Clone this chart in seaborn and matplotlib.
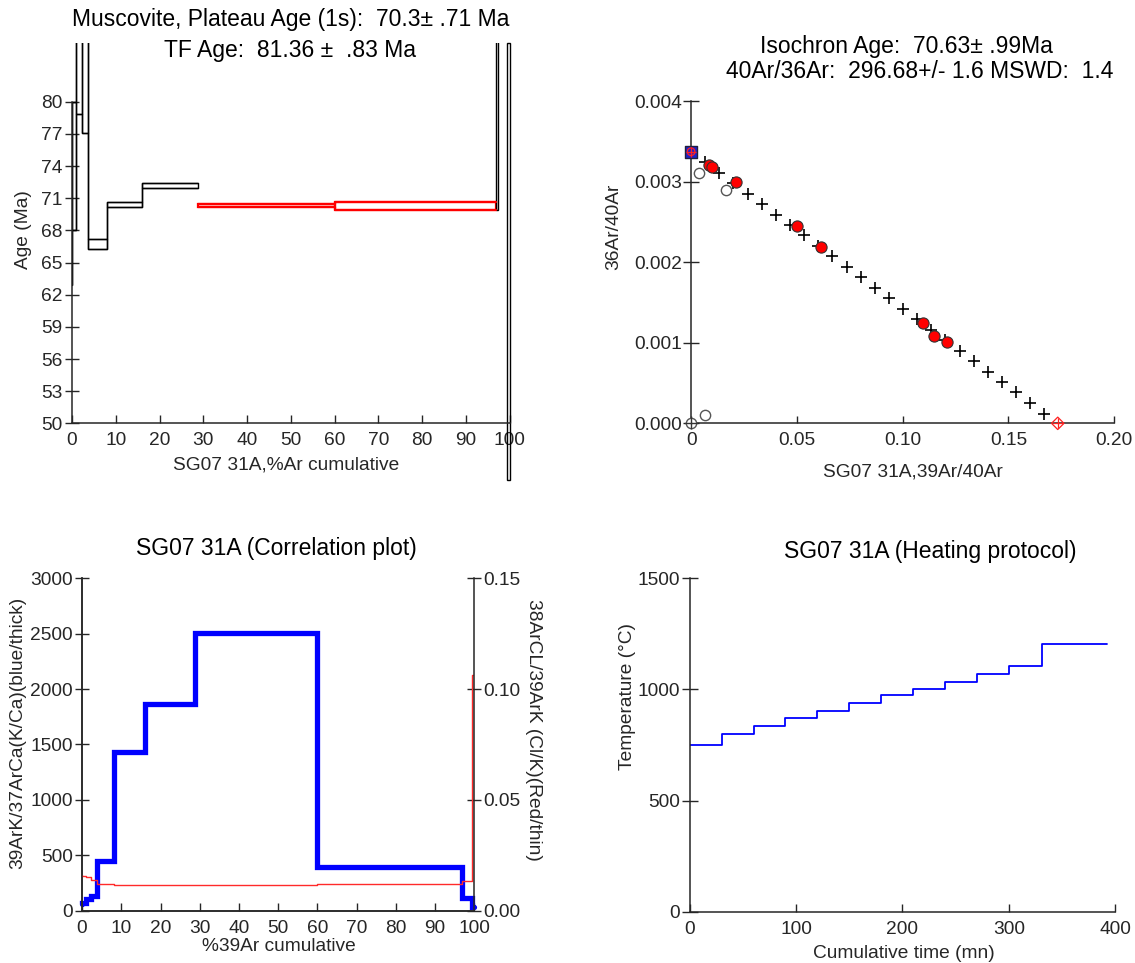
import matplotlib
matplotlib.use("Agg")
import matplotlib.pyplot as plt
from matplotlib.patches import Rectangle
import pandas as pd
import seaborn as sns

# cumulative %39Ar released, edges of the 12 heating steps
cum_edges = [0, 0.07, 1.0, 2.3, 3.7, 8.1, 16.1, 28.7, 60.0, 96.9, 97.2, 99.4, 100]

# age spectrum boxes (age - 1s, age + 1s), Ma
age_lo = [62.9, 68.0, 78.85, 77.05, 66.23, 70.21, 71.93, 70.21, 69.90, 69.90, 95.0, 44.7]
age_hi = [77.5, 80.0, 120.0, 120.0, 67.17, 70.68, 72.46, 70.46, 70.68, 120.0, 130.0, 85.45]
plateau = [False, False, False, False, False, False, False, True, True, False, False, False]

# K/Ca and Cl/K per step
k_ca = [60, 70, 105, 132, 450, 1430, 1866, 2505, 397, 117, 117, 36]
cl_k = [0.0161, 0.0158, 0.0150, 0.0138, 0.0120, 0.0118, 0.0118, 0.0118, 0.0122, 0.0136, 0.0136, 0.1064]
cl_k_end = 0.0131

# isochron: regression line drawn as crosses
iso_line_x = [0.0067, 0.0134, 0.0200, 0.0267, 0.0334, 0.0401, 0.0468, 0.0534, 0.0601,
              0.0668, 0.0735, 0.0802, 0.0868, 0.0935, 0.1002, 0.1069, 0.1136, 0.1202,
              0.1269, 0.1336, 0.1403, 0.1470, 0.1536, 0.1603, 0.1670]
iso_line_y = [0.003241, 0.003111, 0.002982, 0.002852, 0.002721, 0.002591, 0.002461,
              0.002332, 0.002202, 0.002072, 0.001942, 0.001811, 0.001682, 0.001552,
              0.001422, 0.001292, 0.001162, 0.001032, 0.000902, 0.000772, 0.000642,
              0.000512, 0.000383, 0.000252, 0.000122]
# steps used in the isochron (filled red)
used_x = [0.0085, 0.0097, 0.0213, 0.0502, 0.0615, 0.1094, 0.1150, 0.1211]
used_y = [0.00320, 0.00318, 0.00299, 0.002453, 0.002184, 0.001241, 0.001084, 0.001013]
# excluded steps (open)
excl_x = [0.0035, 0.0166, 0.0065, 0.0]
excl_y = [0.003102, 0.002890, 0.000103, 0.0]
# intercepts: 36/40 (y) and 39/40 (x)
y_int = 0.003371
x_int = 0.1733

# heating protocol
heat_time = [0, 30, 60, 90, 120, 150, 180, 210, 240, 270, 300, 331, 392]
heat_temp = [750, 800, 835, 870, 905, 940, 975, 1000, 1035, 1070, 1105, 1205]

sns.set_style("ticks")
plt.rcParams['font.family'] = ['Liberation Sans', 'DejaVu Sans']
plt.rcParams['axes.linewidth'] = 1.1
plt.rcParams['text.color'] = 'black'

TICK = 13.8
LAB = 13.8
TIT = 16.5

fig = plt.figure(figsize=(11.35, 9.63), dpi=100)


def center_labels(ax, xpos, ypos):
    ax.xaxis.label.set_verticalalignment('center')
    ax.yaxis.label.set_verticalalignment('center')
    ax.xaxis.set_label_coords(*xpos)
    ax.yaxis.set_label_coords(*ypos)


# ---------- age spectrum ----------
ax1 = fig.add_axes([0.0634, 0.5604, 0.3858, 0.3946])
for i in range(len(age_lo)):
    x0, x1 = cum_edges[i], cum_edges[i + 1]
    if plateau[i]:
        col, lw = '#ff0000', 1.6
    else:
        col, lw = 'black', 1.0
    ax1.add_patch(Rectangle((x0, age_lo[i]), x1 - x0, age_hi[i] - age_lo[i],
                            fill=False, ec=col, lw=lw,
                            clip_on=(i != len(age_lo) - 1)))
# join neighbouring steps of the same kind (upper and lower step curves)
runs = []
start = 0
for i in range(1, len(plateau) + 1):
    if i == len(plateau) or plateau[i] != plateau[start]:
        runs.append((start, i))
        start = i
for a, b in runs[:2]:
    col, lw = ('#ff0000', 1.6) if plateau[a] else ('black', 1.0)
    for vals in (age_lo, age_hi):
        df = pd.DataFrame({'pct': cum_edges[a:b + 1], 'age': vals[a:b] + [vals[b - 1]]})
        sns.lineplot(data=df, x='pct', y='age', ax=ax1, color=col, lw=lw,
                     drawstyle='steps-post')
ax1.set_xlim(0, 100)
ax1.set_ylim(50, 85.45)
ax1.set_xticks(range(0, 101, 10))
ax1.set_yticks(range(50, 81, 3))
sns.despine(ax=ax1)
ax1.spines['left'].set_bounds(50, 80)
ax1.tick_params(axis='y', direction='inout', length=10, width=1, pad=2, labelsize=TICK)
ax1.tick_params(axis='x', direction='in', length=6, width=1, pad=6, labelsize=TICK)
ax1.set_xlabel('SG07 31A,%Ar cumulative', fontsize=LAB)
ax1.set_ylabel('Age (Ma)', fontsize=LAB)
center_labels(ax1, (0.488, -0.110), (-0.110, 0.509))
fig.text(0.2561, 0.980, 'Muscovite, Plateau Age (1s):  70.3\u00b1 .71 Ma',
         ha='center', va='center', fontsize=TIT)
fig.text(0.2555, 0.948, 'TF Age:  81.36 \u00b1  .83 Ma',
         ha='center', va='center', fontsize=TIT)

# ---------- isochron ----------
ax2 = fig.add_axes([0.6089, 0.5604, 0.3728, 0.3347])
line_df = pd.DataFrame({'x': iso_line_x, 'y': iso_line_y})
used_df = pd.DataFrame({'x': used_x, 'y': used_y})
excl_df = pd.DataFrame({'x': excl_x, 'y': excl_y})
sns.scatterplot(data=line_df, x='x', y='y', ax=ax2, marker='+', s=70,
                color='black', linewidth=1.2, zorder=3, clip_on=False)
sns.scatterplot(data=excl_df, x='x', y='y', ax=ax2, marker='o', s=55,
                facecolor='white', edgecolor='#555555', linewidth=1.0, zorder=4, clip_on=False)
sns.scatterplot(data=used_df, x='x', y='y', ax=ax2, marker='o', s=65,
                color='#ff0000', edgecolor='#333333', linewidth=0.8, zorder=5, clip_on=False)
sns.scatterplot(x=[excl_x[-1]], y=[excl_y[-1]], ax=ax2, marker='+', s=70,
                color='#333333', linewidth=1.0, zorder=5, clip_on=False)
sns.scatterplot(x=[0.0], y=[y_int], ax=ax2, marker='s', s=75,
                color='#2020c8', edgecolor='#202040', linewidth=1.0, zorder=6, clip_on=False)
sns.scatterplot(x=[0.0], y=[y_int], ax=ax2, marker='o', s=30,
                facecolor='none', edgecolor='#ff2020', linewidth=0.9, zorder=7, clip_on=False)
sns.scatterplot(x=[0.0, x_int], y=[y_int, 0.0], ax=ax2, marker='+', s=45,
                color='#ff2020', linewidth=0.9, zorder=7, clip_on=False)
sns.scatterplot(x=[x_int], y=[0.0], ax=ax2, marker='D', s=40,
                facecolor='none', edgecolor='#ff2020', linewidth=0.9, zorder=7, clip_on=False)
ax2.set_xlim(0, 0.20)
ax2.set_ylim(0, 0.004)
ax2.set_xticks([0, 0.05, 0.10, 0.15, 0.20])
ax2.set_xticklabels(['0', '0.05', '0.10', '0.15', '0.20'])
ax2.set_yticks([0, 0.001, 0.002, 0.003, 0.004])
ax2.set_yticklabels(['0.000', '0.001', '0.002', '0.003', '0.004'])
sns.despine(ax=ax2)
ax2.tick_params(axis='y', direction='inout', length=11, width=1, pad=1, labelsize=TICK)
ax2.tick_params(axis='x', direction='in', length=5, width=1, pad=6, labelsize=TICK)
ax2.set_xlabel('SG07 31A,39Ar/40Ar', fontsize=LAB)
ax2.set_ylabel('36Ar/40Ar', fontsize=LAB)
center_labels(ax2, (0.524, -0.150), (-0.183, 0.61))
fig.text(0.799, 0.9515, 'Isochron Age:  70.63\u00b1 .99Ma',
         ha='center', va='center', fontsize=TIT)
fig.text(0.8106, 0.9255, '40Ar/36Ar:  296.68+/- 1.6 MSWD:  1.4',
         ha='center', va='center', fontsize=TIT)

# ---------- correlation plot ----------
ax3 = fig.add_axes([0.0723, 0.0543, 0.3456, 0.3452])
kca_df = pd.DataFrame({'pct': cum_edges, 'kca': k_ca + [k_ca[-1]]})
sns.lineplot(data=kca_df, x='pct', y='kca', ax=ax3, color='#0000ff', lw=3.8,
             drawstyle='steps-post', solid_joinstyle='miter', clip_on=False)
ax3.set_xlim(0, 100)
ax3.set_ylim(0, 3000)
ax3.set_xticks(range(0, 101, 10))
ax3.set_yticks(range(0, 3001, 500))
ax3b = ax3.twinx()
clk_df = pd.DataFrame({'pct': cum_edges, 'clk': cl_k + [cl_k_end]})
sns.lineplot(data=clk_df, x='pct', y='clk', ax=ax3b, color='#ff2a2a', lw=1.0,
             drawstyle='steps-post')
ax3b.set_ylim(0, 0.15)
ax3b.set_yticks([0, 0.05, 0.10, 0.15])
ax3b.set_yticklabels(['0.00', '0.05', '0.10', '0.15'])
for a in (ax3, ax3b):
    a.spines['top'].set_visible(False)
ax3.spines['right'].set_visible(False)
ax3.tick_params(axis='y', direction='inout', length=10, width=1, pad=1.5, labelsize=TICK)
ax3.tick_params(axis='x', direction='in', length=6, width=1, pad=7, labelsize=TICK)
ax3b.tick_params(axis='y', direction='inout', length=10, width=1, pad=1.5, labelsize=TICK)
ax3.set_xlabel('%39Ar cumulative', fontsize=LAB)
ax3.set_ylabel('39ArK/37ArCa(K/Ca)(blue/thick)', fontsize=LAB)
center_labels(ax3, (0.501, -0.108), (-0.164, 0.534))
ax3b.set_ylabel('38ArCL/39ArK (Cl/K)(Red/thin)', fontsize=LAB, rotation=270)
ax3b.yaxis.label.set_verticalalignment('center')
ax3b.yaxis.set_label_coords(1.152, 0.544)
fig.text(0.2434, 0.4306, 'SG07 31A (Correlation plot)',
         ha='center', va='center', fontsize=TIT)

# ---------- heating protocol ----------
ax4 = fig.add_axes([0.6077, 0.0533, 0.3749, 0.3462])
heat_df = pd.DataFrame({'t': heat_time, 'T': heat_temp + [heat_temp[-1]]})
sns.lineplot(data=heat_df, x='t', y='T', ax=ax4, color='#0000ff', lw=1.3,
             drawstyle='steps-post')
ax4.set_xlim(0, 400)
ax4.set_ylim(0, 1500)
ax4.set_xticks(range(0, 401, 100))
ax4.set_yticks([0, 500, 1000, 1500])
sns.despine(ax=ax4)
ax4.tick_params(axis='y', direction='inout', length=11, width=1, pad=1.5, labelsize=TICK)
ax4.tick_params(axis='x', direction='in', length=6, width=1, pad=7, labelsize=TICK)
ax4.set_xlabel('Cumulative time (mn)', fontsize=LAB)
ax4.set_ylabel('Temperature (\u00b0C)', fontsize=LAB)
center_labels(ax4, (0.504, -0.125), (-0.1455, 0.645))
fig.text(0.8198, 0.4271, 'SG07 31A (Heating protocol)',
         ha='center', va='center', fontsize=TIT)

fig.savefig('out.png', dpi=100)
